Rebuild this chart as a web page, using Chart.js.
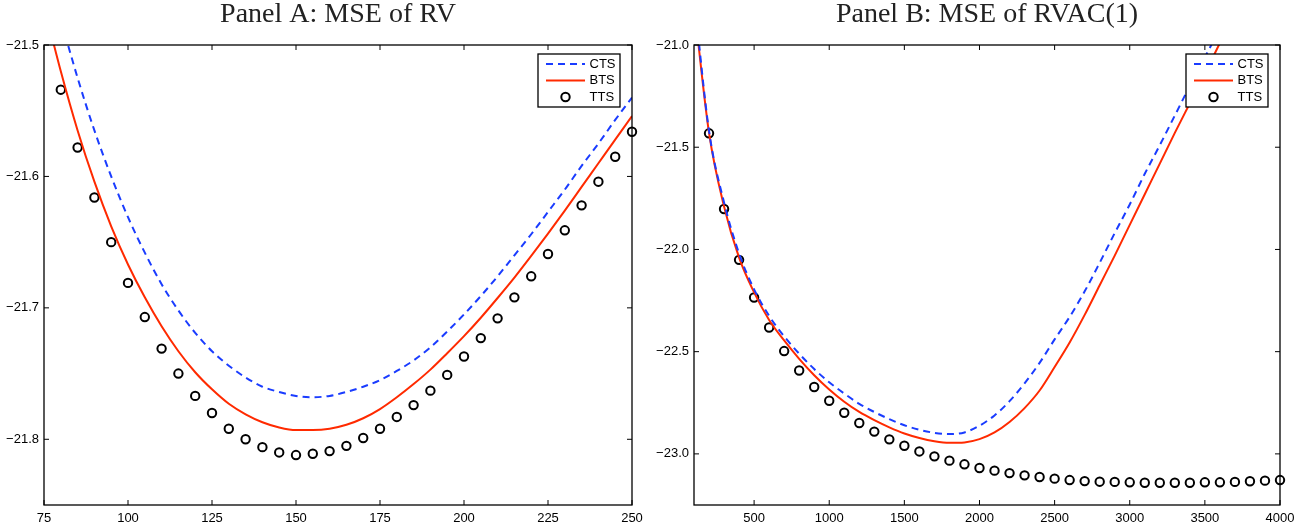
<!DOCTYPE html>
<html>
<head>
<meta charset="utf-8">
<script src="https://cdn.jsdelivr.net/npm/chart.js@4.4.1/dist/chart.umd.min.js"></script>
<style>
body { margin: 0; background: #fff; }
#wrap { position: relative; width: 1307px; height: 531px; }
canvas { position: absolute; top: 0; }
#chartA { left: 0; }
#chartB { left: 650px; }
</style>
</head>
<body>
<div id="wrap">
  <canvas id="chartA" width="650" height="531"></canvas>
  <canvas id="chartB" width="657" height="531"></canvas>
</div>
<script>
// Panel A: MSE of RV
const rvSampling = [75, 80, 85, 90, 95, 100, 105, 110, 115, 120, 125, 130, 135, 140, 145, 150, 155, 160,
  165, 170, 175, 180, 185, 190, 195, 200, 205, 210, 215, 220, 225, 230, 235, 240, 245, 250];
const rvCTS = [-21.430, -21.480, -21.525, -21.565, -21.600, -21.631, -21.658, -21.682, -21.702, -21.719,
  -21.733, -21.744, -21.753, -21.760, -21.764, -21.767, -21.768, -21.767, -21.764, -21.760, -21.755,
  -21.748, -21.740, -21.730, -21.718, -21.705, -21.691, -21.676, -21.660, -21.644, -21.627, -21.610,
  -21.592, -21.575, -21.557, -21.540];
const rvBTS = [-21.470, -21.520, -21.565, -21.604, -21.638, -21.667, -21.692, -21.714, -21.733, -21.749,
  -21.762, -21.773, -21.781, -21.787, -21.791, -21.793, -21.793, -21.792, -21.789, -21.784, -21.777,
  -21.768, -21.758, -21.747, -21.7345, -21.7215, -21.7075, -21.6925, -21.677, -21.6605, -21.6435,
  -21.626, -21.608, -21.590, -21.572, -21.554];
const rvTTS = [null, -21.534, -21.578, -21.616, -21.650, -21.681, -21.707, -21.731, -21.750, -21.767,
  -21.780, -21.792, -21.800, -21.806, -21.810, -21.812, -21.811, -21.809, -21.805, -21.799, -21.792,
  -21.783, -21.774, -21.763, -21.751, -21.737, -21.723, -21.708, -21.692, -21.676, -21.659, -21.641,
  -21.622, -21.604, -21.585, -21.566];
const rvXTicks = [75, 100, 125, 150, 175, 200, 225, 250];
const rvYTicks = [-21.8, -21.7, -21.6, -21.5];
const rvXRange = [75, 250];
const rvYRange = [-21.85, -21.5];

// Panel B: MSE of RVAC(1)
const acSampling = [100, 200, 300, 400, 500, 600, 700, 800, 900, 1000, 1100, 1200, 1300, 1400, 1500,
  1600, 1700, 1800, 1900, 2000, 2100, 2200, 2300, 2400, 2500, 2600, 2700, 2800, 2900, 3000, 3100,
  3200, 3300, 3400, 3500, 3600, 3700, 3800, 3900, 4000];
const acCTS = [-20.76, -21.42, -21.77, -22.02, -22.195, -22.325, -22.425, -22.51, -22.585, -22.65,
  -22.705, -22.755, -22.795, -22.83, -22.86, -22.882, -22.897, -22.903, -22.895, -22.862, -22.812,
  -22.742, -22.655, -22.555, -22.44, -22.33, -22.205, -22.065, -21.92, -21.78, -21.63, -21.49,
  -21.345, -21.20, -21.06, -20.92, -20.78, -20.64, -20.50, -20.36];
const acBTS = [-20.80, -21.43, -21.79, -22.04, -22.21, -22.345, -22.445, -22.535, -22.615, -22.685,
  -22.745, -22.795, -22.835, -22.870, -22.900, -22.922, -22.938, -22.946, -22.944, -22.928, -22.895,
  -22.844, -22.776, -22.690, -22.575, -22.455, -22.320, -22.175, -22.030, -21.880, -21.730, -21.580,
  -21.430, -21.285, -21.140, -20.990, -20.840, -20.690, -20.540, -20.390];
const acTTS = [null, -21.432, -21.802, -22.051, -22.235, -22.382, -22.497, -22.592, -22.673, -22.740,
  -22.799, -22.849, -22.891, -22.929, -22.960, -22.988, -23.012, -23.033, -23.051, -23.069, -23.082,
  -23.094, -23.105, -23.113, -23.121, -23.128, -23.133, -23.136, -23.137, -23.139, -23.141, -23.141,
  -23.141, -23.141, -23.139, -23.139, -23.137, -23.134, -23.131, -23.128];
const acXTicks = [500, 1000, 1500, 2000, 2500, 3000, 3500, 4000];
const acYTicks = [-23.0, -22.5, -22.0, -21.5, -21.0];
const acXRange = [100, 4000];
const acYRange = [-23.25, -21.0];

const seriesNames = ['CTS', 'BTS', 'TTS'];

Chart.defaults.font.family = '"Liberation Sans", Arial, sans-serif';
Chart.defaults.font.size = 13;
Chart.defaults.color = '#000';

const fmtY = v => v.toFixed(1).replace('-', '\u2212');

// matlab style box with inward ticks on all four sides
const framePlugin = {
  id: 'frame',
  afterDatasetsDraw(chart) {
    const { ctx, chartArea: a, scales } = chart;
    ctx.save();
    ctx.strokeStyle = '#000';
    ctx.lineWidth = 1;
    ctx.beginPath();
    scales.x.ticks.forEach(t => {
      const px = scales.x.getPixelForValue(t.value);
      ctx.moveTo(px, a.bottom); ctx.lineTo(px, a.bottom - 5);
      ctx.moveTo(px, a.top); ctx.lineTo(px, a.top + 5);
    });
    scales.y.ticks.forEach(t => {
      const py = scales.y.getPixelForValue(t.value);
      ctx.moveTo(a.left, py); ctx.lineTo(a.left + 5, py);
      ctx.moveTo(a.right, py); ctx.lineTo(a.right - 5, py);
    });
    ctx.stroke();
    ctx.lineWidth = 1.3;
    ctx.strokeRect(a.left, a.top, a.right - a.left, a.bottom - a.top);
    ctx.restore();
  }
};

const boxLegend = {
  id: 'boxLegend',
  afterDraw(chart) {
    const { ctx, chartArea: a } = chart;
    const w = 82, h = 53;
    const left = a.right - 12 - w, top = a.top + 9;
    ctx.save();
    ctx.fillStyle = '#fff';
    ctx.fillRect(left, top, w, h);
    ctx.strokeStyle = '#000';
    ctx.lineWidth = 1.3;
    ctx.strokeRect(left, top, w, h);
    chart.data.datasets.forEach((ds, i) => {
      const y = top + 10 + i * 16.5;
      if (ds.showLine !== false) {
        ctx.strokeStyle = ds.borderColor;
        ctx.lineWidth = ds.borderWidth;
        ctx.setLineDash(ds.borderDash || []);
        ctx.beginPath();
        ctx.moveTo(left + 8, y);
        ctx.lineTo(left + 47, y);
        ctx.stroke();
        ctx.setLineDash([]);
      } else {
        ctx.strokeStyle = ds.pointBorderColor;
        ctx.lineWidth = ds.pointBorderWidth;
        ctx.beginPath();
        ctx.arc(left + 27.5, y, ds.pointRadius, 0, Math.PI * 2);
        ctx.stroke();
      }
      ctx.fillStyle = '#000';
      ctx.font = '13px "Liberation Sans", Arial, sans-serif';
      ctx.textBaseline = 'middle';
      ctx.textAlign = 'left';
      ctx.fillText(ds.label, left + 51.5, y);
    });
    ctx.restore();
  }
};

function pts(xs, ys) {
  return xs.map((x, i) => ({ x: x, y: ys[i] }));
}

function makePanel(id, title, xs, cts, bts, tts, xTicks, yTicks, xRange, yRange, rightPad) {
  return new Chart(document.getElementById(id), {
    type: 'line',
    data: {
      datasets: [{
        label: seriesNames[0],
        data: pts(xs, cts),
        borderColor: '#1a3cff',
        borderWidth: 2,
        borderDash: [7, 5],
        pointRadius: 0,
        fill: false,
        cubicInterpolationMode: 'monotone'
      }, {
        label: seriesNames[1],
        data: pts(xs, bts),
        borderColor: '#ff2a00',
        borderWidth: 2,
        pointRadius: 0,
        fill: false,
        cubicInterpolationMode: 'monotone'
      }, {
        label: seriesNames[2],
        data: pts(xs, tts),
        showLine: false,
        pointRadius: 4.2,
        pointBorderWidth: 2,
        pointBorderColor: '#000',
        pointBackgroundColor: 'rgba(0,0,0,0)',
        clip: 8
      }]
    },
    options: {
      responsive: false,
      animation: false,
      events: [],
      layout: { autoPadding: false, padding: { left: 0, right: rightPad, top: 0, bottom: 0 } },
      plugins: {
        legend: { display: false },
        tooltip: { enabled: false },
        title: {
          display: true,
          text: title,
          fullSize: false,
          color: '#222',
          font: { family: '"Liberation Serif", "Times New Roman", serif', size: 28, weight: 'normal', lineHeight: 1 },
          padding: { top: 1, bottom: 16 }
        }
      },
      scales: {
        x: {
          type: 'linear',
          min: xRange[0],
          max: xRange[1],
          grid: { display: false, drawTicks: false, tickLength: 0 },
          border: { display: false },
          afterBuildTicks: s => { s.ticks = xTicks.map(v => ({ value: v })); },
          afterFit: s => { s.height = 26; },
          ticks: { padding: 6, maxRotation: 0, callback: v => String(v) }
        },
        y: {
          type: 'linear',
          min: yRange[0],
          max: yRange[1],
          grid: { display: false, drawTicks: false, tickLength: 0 },
          border: { display: false },
          afterBuildTicks: s => { s.ticks = yTicks.map(v => ({ value: v })); },
          afterFit: s => { s.width = 44; },
          ticks: { padding: 5, callback: v => fmtY(v) }
        }
      }
    },
    plugins: [framePlugin, boxLegend]
  });
}

makePanel('chartA', 'Panel A: MSE of RV', rvSampling, rvCTS, rvBTS, rvTTS,
  rvXTicks, rvYTicks, rvXRange, rvYRange, 18);
makePanel('chartB', 'Panel B: MSE of RVAC(1)', acSampling, acCTS, acBTS, acTTS,
  acXTicks, acYTicks, acXRange, acYRange, 27);
</script>
</body>
</html>
